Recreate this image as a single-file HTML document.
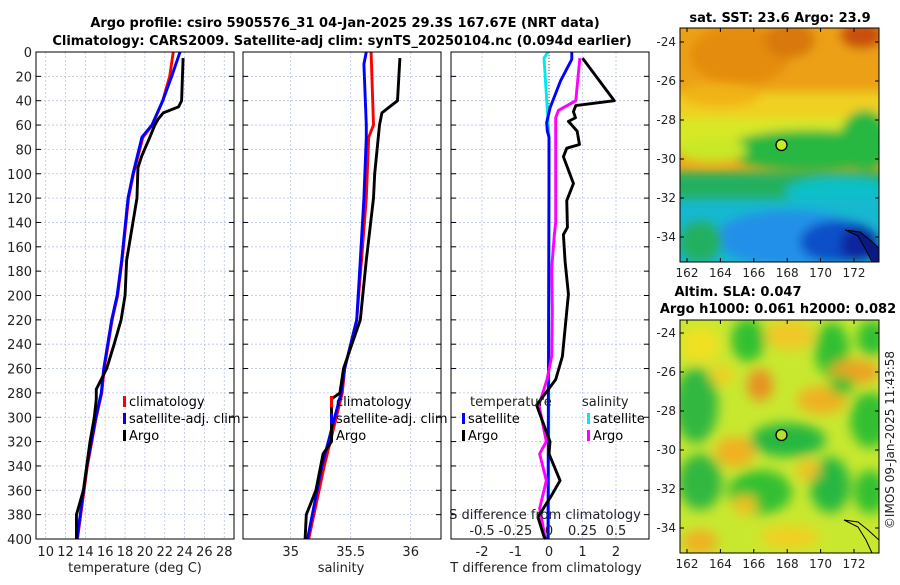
<!DOCTYPE html>
<html><head><meta charset="utf-8"><style>
body{margin:0;background:#fff;font-family:"Liberation Sans","DejaVu Sans",sans-serif}
svg text{font-family:"DejaVu Sans","Liberation Sans",sans-serif}
</style></head><body>
<svg id="fig" width="900" height="580" viewBox="0 0 900 580" xmlns="http://www.w3.org/2000/svg">
<defs>
<clipPath id="cm1"><rect x="680" y="28" width="199" height="234"/></clipPath>
<clipPath id="cm2"><rect x="680" y="320" width="199" height="233"/></clipPath>
<filter id="blur1"><feGaussianBlur stdDeviation="5"/></filter>
<filter id="blur2"><feGaussianBlur stdDeviation="6"/></filter>
</defs>
<g font-weight="bold" font-size="13" text-anchor="middle" fill="#000">
<text x="345" y="27">Argo profile: csiro 5905576_31 04-Jan-2025 29.3S 167.67E (NRT data)</text>
<text x="342" y="45">Climatology: CARS2009. Satellite-adj clim: synTS_20250104.nc (0.094d earlier)</text>
</g>
<g id="p1"></g>
<g id="p2"></g>
<g id="p3"></g>

<!-- SST map -->
<g>
<text x="780" y="22" font-size="13" font-weight="bold" text-anchor="middle">sat. SST: 23.6 Argo: 23.9</text>
<g clip-path="url(#cm1)">
<rect x="680" y="28" width="199" height="234" fill="#f0a818"/>
<g filter="url(#blur1)">
<rect x="660" y="20" width="240" height="75" fill="#eca018"/>
<ellipse cx="740" cy="55" rx="50" ry="30" fill="#e48c10"/>
<ellipse cx="790" cy="40" rx="25" ry="18" fill="#d87810"/>
<ellipse cx="862" cy="35" rx="22" ry="14" fill="#c85010"/>
<rect x="660" y="92" width="240" height="30" fill="#f0d020"/>
<ellipse cx="720" cy="95" rx="40" ry="12" fill="#f0b418"/>
<rect x="660" y="118" width="240" height="30" fill="#d8e828"/>
<ellipse cx="810" cy="150" rx="85" ry="20" fill="#28b840"/>
<ellipse cx="865" cy="140" rx="25" ry="30" fill="#28b840"/>
<ellipse cx="712" cy="150" rx="35" ry="12" fill="#c8e828"/>
<rect x="660" y="172" width="240" height="30" fill="#20b060"/>
<ellipse cx="840" cy="192" rx="55" ry="15" fill="#10c0c8"/>
<rect x="660" y="200" width="240" height="70" fill="#18b8d0"/>
<ellipse cx="790" cy="238" rx="75" ry="28" fill="#2090e8"/>
<ellipse cx="700" cy="242" rx="22" ry="22" fill="#20b060"/>
<ellipse cx="840" cy="242" rx="40" ry="22" fill="#1050c8"/>
<ellipse cx="860" cy="245" rx="20" ry="18" fill="#0828a0"/>
</g>
<path d="M845 230 L858 236 L866 250 L872 262 L879 262 L879 248 L870 240 L860 232 Z" fill="#0a1a80" stroke="#000" stroke-width="1"/>
<circle cx="781.5" cy="145" r="5.5" fill="#c0f020" stroke="#000" stroke-width="1.3"/>
</g>
<rect x="680" y="28" width="199" height="234" fill="none" stroke="#000" stroke-width="1"/>
<g id="m1ax" font-size="12" fill="#222"></g>
</g>

<!-- SLA map -->
<g>
<text x="738" y="296" font-size="13" font-weight="bold" text-anchor="middle">Altim. SLA: 0.047</text>
<text x="778" y="313" font-size="13" font-weight="bold" text-anchor="middle">Argo h1000: 0.061 h2000: 0.082</text>
<g clip-path="url(#cm2)">
<rect x="680" y="320" width="199" height="233" fill="#c8e830"/>
<g filter="url(#blur2)">
<ellipse cx="700" cy="345" rx="20" ry="18" fill="#f0e020"/>
<ellipse cx="748" cy="340" rx="17" ry="22" fill="#30c030"/>
<ellipse cx="790" cy="335" rx="25" ry="15" fill="#f0c828"/>
<ellipse cx="832" cy="350" rx="17" ry="28" fill="#30c030"/>
<ellipse cx="872" cy="338" rx="15" ry="18" fill="#30c030"/>
<ellipse cx="855" cy="372" rx="25" ry="12" fill="#f0a020"/>
<ellipse cx="760" cy="385" rx="13" ry="16" fill="#e89020"/>
<ellipse cx="696" cy="405" rx="22" ry="38" fill="#30b840"/>
<ellipse cx="722" cy="375" rx="12" ry="10" fill="#f0d020"/>
<ellipse cx="788" cy="440" rx="38" ry="17" fill="#28b840"/>
<ellipse cx="822" cy="400" rx="25" ry="14" fill="#f0b020"/>
<ellipse cx="870" cy="420" rx="20" ry="28" fill="#30c030"/>
<ellipse cx="842" cy="385" rx="12" ry="10" fill="#30c030"/>
<ellipse cx="735" cy="452" rx="20" ry="15" fill="#f0b020"/>
<ellipse cx="700" cy="482" rx="22" ry="28" fill="#30b840"/>
<ellipse cx="760" cy="492" rx="32" ry="22" fill="#30c030"/>
<ellipse cx="745" cy="505" rx="12" ry="10" fill="#f0c020"/>
<ellipse cx="830" cy="485" rx="20" ry="28" fill="#28b840"/>
<ellipse cx="808" cy="470" rx="12" ry="10" fill="#f0c020"/>
<ellipse cx="870" cy="492" rx="16" ry="22" fill="#30c030"/>
<ellipse cx="700" cy="542" rx="18" ry="12" fill="#f0b020"/>
<ellipse cx="790" cy="537" rx="30" ry="12" fill="#f0d020"/>
</g>
<path d="M844 520 L858 527 L866 540 L872 553 L879 553 L879 540 L868 530 L858 522 Z" fill="none" stroke="#000" stroke-width="1"/>
<circle cx="781.5" cy="435" r="5.5" fill="#b0e030" stroke="#000" stroke-width="1.3"/>
</g>
<rect x="680" y="320" width="199" height="233" fill="none" stroke="#000" stroke-width="1"/>
<g id="m2ax" font-size="12" fill="#222"></g>
</g>
<text x="894" y="440" font-size="12" fill="#222" text-anchor="middle" transform="rotate(-90 894 440)">©IMOS 09-Jan-2025 11:43:58</text>
</svg>
<script>
// ---- data ----
const depthTicks=[0,20,40,60,80,100,120,140,160,180,200,220,240,260,280,300,320,340,360,380,400];
const tempTicks=[10,12,14,16,18,20,22,24,26,28];
const salTicks=[35,35.5,36];
const tdiffTicks=[-2,-1,0,1,2];
const sdiffTicks=[-0.5,-0.25,0,0.25,0.5];
const argoTDepth=[5,40,45,50,55,60,70,85,95,120,171,200,220,240,260,277,285,300,320,330,360,380,400];
const argoT=[23.85,23.7,23.4,21.85,21.35,21.0,20.5,19.7,19.3,19.2,18.16,18.0,17.6,16.9,16.15,15.1,15.1,14.9,14.47,14.3,13.8,13.1,13.1];
const climTDepth=[0,20,40,60,70,100,120,171,200,220,260,280,300,340,400];
const climT=[22.86,22.5,21.8,20.75,19.8,18.85,18.35,17.7,17.25,16.7,15.9,15.65,15.1,14.2,13.2];
const satTDepth=[0,20,40,60,70,100,120,171,200,220,260,280,300,340,400];
const satT=[23.54,22.7,21.8,20.7,19.7,18.8,18.3,17.66,17.2,16.65,15.85,15.6,15.05,14.15,13.15];
const argoSDepth=[5,40,50,60,80,100,120,171,220,260,280,285,320,330,360,380,400];
const argoS=[35.91,35.89,35.76,35.74,35.72,35.70,35.69,35.63,35.58,35.44,35.41,35.34,35.34,35.27,35.21,35.13,35.12];
const climSDepth=[0,60,70,120,171,220,260,280,340,400];
const climS=[35.67,35.69,35.65,35.63,35.59,35.55,35.45,35.43,35.28,35.15];
const satSDepth=[0,10,60,70,120,171,220,260,280,340,400];
const satS=[35.63,35.61,35.63,35.63,35.61,35.58,35.55,35.45,35.42,35.26,35.14];
const dTArgoDepth=[5,40,44,49,54,57,65,76,79,86,108,122,144,150,172,199,213,250,269,290,320,330,352,364,382,398,400];
const dTArgo=[1.0,1.95,0.8,0.73,0.79,0.58,0.84,0.91,0.53,0.43,0.73,0.53,0.55,0.43,0.48,0.58,0.53,0.4,0.2,-0.37,0.03,0.0,0.33,0.08,-0.33,-0.15,-0.1];
const dTSatDepth=[0,6,24,46,58,65,70,100,400];
const dTSat=[0.68,0.68,0.34,0.03,-0.07,-0.05,0,0,-0.03];
const dSArgoDepth=[5,40,48,54,76,140,150,178,213,250,269,290,320,330,352,375,398,400];
const dSArgo=[0.23,0.2,0.07,0.05,0.05,0.05,0.04,0.02,0.025,0.02,-0.015,-0.075,-0.02,-0.07,-0.02,-0.07,-0.03,-0.03];
const dSSatDepth=[0,5,52,70,400];
const dSSat=[-0.008,-0.037,-0.01,0,-0.003];
const lonTicks=[162,164,166,168,170,172];
const latTicks=[-24,-26,-28,-30,-32,-34];

// ---- helpers ----
const NS="http://www.w3.org/2000/svg";
function mk(tag,attrs,parent){const e=document.createElementNS(NS,tag);for(const k in attrs)e.setAttribute(k,attrs[k]);parent.appendChild(e);return e;}
const top0=52,bot0=539;
const yD=d=>top0+(d/400)*(bot0-top0);
const xT=t=>45.7+(t-10)*9.92;
const xS=s=>290.7+(s-35)*120;
const x0=549;
const xdT=v=>x0+v*33.5;
const xdS=v=>x0+v*134;

function frame(g,L,R,labelsY){
  mk('rect',{x:L,y:top0,width:R-L,height:bot0-top0,fill:'#fff',stroke:'none'},g);
  depthTicks.forEach(d=>{
    const l=mk('line',{x1:L,x2:R,y1:yD(d),y2:yD(d),stroke:'#b8c4e8','stroke-width':0.8,'stroke-dasharray':'2,2'},g);
    
    
    mk('line',{x1:L,x2:L+5,y1:yD(d),y2:yD(d),stroke:'#000'},g);
    mk('line',{x1:R-5,x2:R,y1:yD(d),y2:yD(d),stroke:'#000'},g);
    if(labelsY){const t=mk('text',{x:L-4,y:yD(d)+5,'font-size':13,'text-anchor':'end',fill:'#222'},g);t.textContent=d;
      
      }
  });
}
function vgrid(g,ticks,fx,labelY,fs){
  ticks.forEach(v=>{
    const l=mk('line',{x1:fx(v),x2:fx(v),y1:top0,y2:bot0,stroke:'#b8c4e8','stroke-width':0.8,'stroke-dasharray':'2,2'},g);
    
    
    if(labelY){const t=mk('text',{x:fx(v),y:labelY,'font-size':fs||13,'text-anchor':'middle',fill:'#222'},g);t.textContent=v;
      
      }
  });
}
function line(g,ds,vs,fx,col,name){
  const p=mk('polyline',{points:ds.map((d,i)=>fx(vs[i])+','+yD(d)).join(' '),fill:'none',stroke:col,'stroke-width':2.9,'stroke-linejoin':'round'},g);
  
  
}
function border(g,L,R){mk('rect',{x:L,y:top0,width:R-L,height:bot0-top0,fill:'none',stroke:'#000','stroke-width':1},g);}
function legend(g,x,y,items){
  items.forEach((it,i)=>{
    const m=mk('rect',{x:x,y:y+i*17-10,width:3,height:11,fill:it[1]},g);
    
    
    const t=mk('text',{x:x+6,y:y+i*17,'font-size':13,fill:'#000'},g);t.textContent=it[0];
    
    
  });
}
function txt(g,x,y,s,name,anchor){const t=mk('text',{x:x,y:y,'font-size':13,'text-anchor':anchor||'middle',fill:'#222'},g);t.textContent=s;
  
  }

// panel 1
const p1=document.getElementById('p1');
frame(p1,36,234,true);vgrid(p1,tempTicks,xT,556);
line(p1,climTDepth,climT,xT,'#ff0000','climatology-temp-line');
line(p1,satTDepth,satT,xT,'#0000ff','satellite-temp-line');
line(p1,argoTDepth,argoT,xT,'#000000','argo-temp-line');
border(p1,36,234);
legend(p1,123,406,[['climatology','#f00'],['satellite-adj. clim','#00f'],['Argo','#000']]);
txt(p1,135,572,'temperature (deg C)','x-axis-title');

// panel 2
const p2=document.getElementById('p2');
frame(p2,243,441,false);vgrid(p2,salTicks,xS,556);
line(p2,climSDepth,climS,xS,'#ff0000','climatology-salinity-line');
line(p2,satSDepth,satS,xS,'#0000ff','satellite-salinity-line');
line(p2,argoSDepth,argoS,xS,'#000000','argo-salinity-line');
border(p2,243,441);
legend(p2,330,406,[['climatology','#f00'],['satellite-adj. clim','#00f'],['Argo','#000']]);
txt(p2,341,572,'salinity','x-axis-title');

// panel 3
const p3=document.getElementById('p3');
frame(p3,451,649,false);vgrid(p3,tdiffTicks,xdT,556);
const z=mk('line',{x1:x0,x2:x0,y1:top0,y2:bot0,stroke:'#445522','stroke-width':1,'stroke-dasharray':'1,2'},p3);


line(p3,dSSatDepth,dSSat,xdS,'#00e8f0','satellite-salinity-diff-line');
line(p3,dTSatDepth,dTSat,xdT,'#0000ff','satellite-temp-diff-line');
line(p3,dSArgoDepth,dSArgo,xdS,'#ff00ff','argo-salinity-diff-line');
line(p3,dTArgoDepth,dTArgo,xdT,'#000000','argo-temp-diff-line');
border(p3,451,649);
txt(p3,470,406,'temperature','legend-title','start');
txt(p3,582,406,'salinity','legend-title','start');
legend(p3,462,423,[['satellite','#00f'],['Argo','#000']]);
legend(p3,587,423,[['satellite','#00e8f0'],['Argo','#f0f']]);
txt(p3,545,519,'S difference from climatology','s-axis-title');
sdiffTicks.forEach(v=>txt(p3,xdS(v),535,String(v),'s-tick-label'));
txt(p3,546,572,'T difference from climatology','x-axis-title');

// map axes
function mapAx(id,top,bot,latTop){
  const g=document.getElementById(id);
  lonTicks.forEach(v=>{const x=687+(v-162)*16.7;
    mk('line',{x1:x,x2:x,y1:bot,y2:bot-4,stroke:'#000'},g);mk('line',{x1:x,x2:x,y1:top,y2:top+4,stroke:'#000'},g);
    const t=mk('text',{x:x,y:bot+15,'text-anchor':'middle'},g);t.textContent=v;
    
    });
  latTicks.forEach(v=>{const y=latTop+(-24-v)*19.5;
    mk('line',{x1:680,x2:684,y1:y,y2:y,stroke:'#000'},g);mk('line',{x1:875,x2:879,y1:y,y2:y,stroke:'#000'},g);
    const t=mk('text',{x:676,y:y+4,'text-anchor':'end'},g);t.textContent=v;
    
    });
}
mapAx('m1ax',28,262,42);
mapAx('m2ax',320,553,333);
</script>
</body></html>
